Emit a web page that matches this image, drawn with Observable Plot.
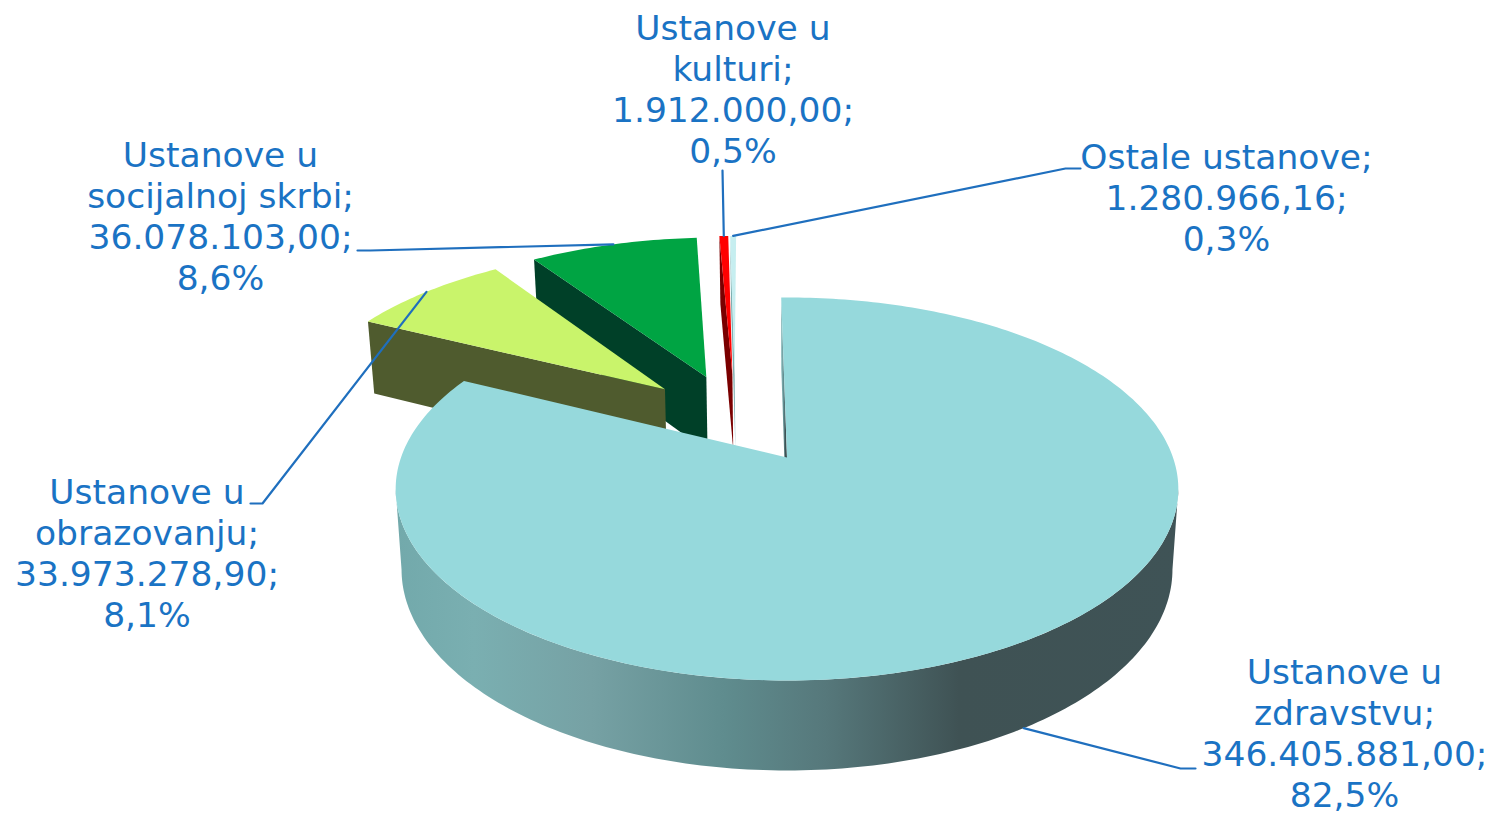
<!DOCTYPE html>
<html>
<head>
<meta charset="utf-8">
<script src="https://cdn.jsdelivr.net/npm/d3@7"></script>
<script src="https://cdn.jsdelivr.net/npm/@observablehq/plot@0.6"></script>
<style>
html,body{margin:0;padding:0;background:#fff;overflow:hidden}
svg{display:block}
</style>
</head>
<body>
<div id="chart"></div>
<script>
// --- data ---
const categories = ["Ustanove u\nzdravstvu;", "Ustanove u\nobrazovanju;", "Ustanove u\nsocijalnoj skrbi;", "Ustanove u\nkulturi;", "Ostale ustanove;"];
const amounts = [346405881.00, 33973278.90, 36078103.00, 1912000.00, 1280966.16];

// --- styles ---
const topColors = ["#96D9DC", "#C9F46B", "#00A443", "#FF0000", "#C6EEF0"];
const wallColors = ["url(#mainWall)", "#4F5B2E", "#004028", "#7A0000", "#7FB0B2"];
const textColor = "#1A73C4";
const lineColor = "#1F6FBE";

// --- layout (label centres and the label-side bends of the leaders) ---
const labelX = [1344, 146.5, 220, 732.5, 1226];
const labelY = [732, 552, 215, 87.5, 196];
const leaderBends = [
  [[1180, 768], [1195, 768]],
  [[262, 503], [250, 503]],
  [[370, 250], [357, 250]],
  [[722, 170]],
  [[1065, 168], [1080, 168]]
];

// --- 3D pie projection ---
const view = {x0: 786.5, y0: 457, b: 386, a: 186.3, k: 0.1645, explode: 0.26, startDeg: -1, bottomScale: 0.985};
const rad = d => d * Math.PI / 180;
function project(u, v) {
  const w = 1 + view.k * v;
  return {x: view.x0 + view.b * u / w, y: view.y0 - view.a * v / w};
}
function drop(p) { // the same point on the lower face of the disc
  return {x: view.x0 + (p.x - view.x0) * view.bottomScale, y: p.y + 90 - 0.05 * (680 - p.y)};
}
// rim angles at which the projected disc is widest: the wall is visible between them
const frontFrom = Math.acos(-view.k) * 180 / Math.PI;
const frontTo = 360 - frontFrom;

const total = d3.sum(amounts);
let cum = view.startDeg;
const slices = amounts.map((value, i) => {
  const start = cum, sweep = value / total * 360;
  cum += sweep;
  return {i, value, start, end: cum, mid: start + sweep / 2};
});
// the largest slice stays at the origin; the disc centre is found from its offset
const c = {u: -view.explode * Math.sin(rad(slices[0].mid)), v: -view.explode * Math.cos(rad(slices[0].mid))};
slices.forEach(s => {
  s.cu = c.u + view.explode * Math.sin(rad(s.mid));
  s.cv = c.v + view.explode * Math.cos(rad(s.mid));
  s.apex = project(s.cu, s.cv);
  s.at = deg => project(s.cu + Math.sin(rad(deg)), s.cv + Math.cos(rad(deg)));
  s.arc = (a, b) => {
    const n = Math.max(2, Math.ceil(Math.abs(b - a)));
    return d3.range(n + 1).map(j => s.at(a + (b - a) * j / n));
  };
});

const faces = [];
[...slices].reverse().forEach(s => {
  // cut wall on the starting side
  const outer = s.at(s.start);
  faces.push({points: [outer, s.apex, drop(s.apex), drop(outer)], fill: wallColors[s.i]});
  // outer wall on the visible front of the disc
  const a = Math.max(s.start, frontFrom), b = Math.min(s.end, frontTo);
  if (b > a) {
    const rim = s.arc(a, b);
    faces.push({points: [...rim, ...rim.map(drop).reverse()], fill: wallColors[s.i]});
  }
  // top face
  faces.push({points: [s.apex, ...s.arc(s.start, s.end)], fill: topColors[s.i]});
});

const fmt = d3.formatLocale({decimal: ",", thousands: ".", grouping: [3]}).format(",.2f");
const labels = slices.map(s => ({
  x: labelX[s.i],
  y: labelY[s.i],
  text: `${categories[s.i]}\n${fmt(s.value)};\n${(s.value / total * 100).toFixed(1).replace(".", ",")}%`
}));
const leaders = slices.map(s => {
  const m = s.at(s.mid);
  const anchor = Math.cos(rad(s.mid)) < 0 ? drop(m) : m;
  return [anchor, ...leaderBends[s.i].map(([x, y]) => ({x, y}))];
});

const wallStops = [[0, "#72A9AB"], [0.1, "#7AAFB1"], [0.25, "#76A1A4"], [0.42, "#5F8C8E"], [0.55, "#56787B"], [0.72, "#3F5254"], [1, "#3F5356"]];
const defs = () => {
  const d = d3.create("svg:defs");
  const g = d.append("linearGradient").attr("id", "mainWall").attr("x1", 0).attr("x2", 1).attr("y1", 0).attr("y2", 0);
  wallStops.forEach(([o, col]) => g.append("stop").attr("offset", o).attr("stop-color", col));
  return d.node();
};

const chart = Plot.plot({
  width: 1492,
  height: 814,
  margin: 0,
  style: {background: "#fff"},
  x: {domain: [0, 1492], range: [0, 1492], axis: null},
  y: {domain: [0, 814], range: [0, 814], axis: null},
  marks: [
    defs,
    ...faces.map(f => Plot.line(f.points, {x: "x", y: "y", fill: f.fill, stroke: "none", curve: "linear"})),
    ...leaders.map(l => Plot.line(l, {x: "x", y: "y", stroke: lineColor, strokeWidth: 2.2, curve: "linear"})),
    Plot.text(labels, {
      x: "x", y: "y", text: "text",
      fontFamily: "'DejaVu Sans', Verdana, sans-serif",
      fontSize: 34.5, lineHeight: 1.19, fill: textColor, textAnchor: "middle"
    })
  ]
});
document.getElementById("chart").append(chart);
</script>
</body>
</html>
